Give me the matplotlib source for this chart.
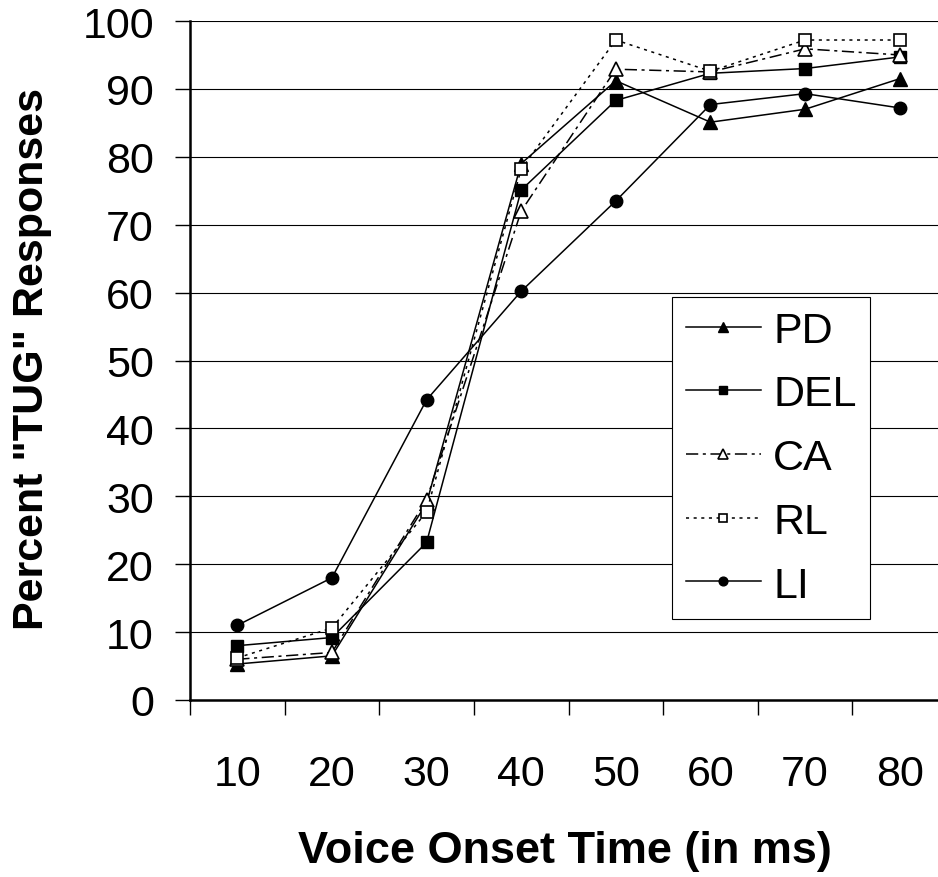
import matplotlib
matplotlib.use('Agg')
import matplotlib.pyplot as plt

plt.rcParams['font.family'] = ['Liberation Sans', 'DejaVu Sans']

# dados
vot = ['10', '20', '30', '40', '50', '60', '70', '80']
pd_vals = [5.3, 6.5, 29.0, 79.0, 91.2, 85.1, 87.0, 91.5]
del_vals = [8.0, 9.2, 23.2, 75.1, 88.3, 92.3, 93.0, 94.7]
ca_vals = [6.0, 7.0, 29.5, 72.0, 92.9, 92.5, 95.9, 95.0]
rl_vals = [6.2, 10.6, 27.7, 78.2, 97.2, 92.6, 97.2, 97.2]
li_vals = [11.0, 18.0, 44.2, 60.2, 73.5, 87.7, 89.3, 87.2]
y_ticks = [0, 10, 20, 30, 40, 50, 60, 70, 80, 90, 100]

fig = plt.figure(figsize=(9.38, 8.78), dpi=100)
ax = fig.add_axes([190 / 938, 177 / 878, 757 / 938, 679 / 878])

x = list(range(len(vot)))
lw = 1.1

ax.plot(x, pd_vals, color='black', lw=lw, marker='^', ms=10,
        mfc='black', mec='black', label='PD')
ax.plot(x, del_vals, color='black', lw=lw, marker='s', ms=8.5,
        mfc='black', mec='black', label='DEL')
ax.plot(x, ca_vals, color='black', lw=lw, linestyle=(0, (8, 3, 2, 3)),
        marker='^', ms=10, mfc='white', mec='black', mew=1.2, label='CA')
ax.plot(x, rl_vals, color='black', lw=lw, linestyle=(0, (2, 3)),
        marker='s', ms=8.5, mfc='white', mec='black', mew=1.2, label='RL')
ax.plot(x, li_vals, color='black', lw=lw, marker='o', ms=9,
        mfc='black', mec='black', label='LI')

ax.set_xlim(-0.5, len(vot) - 0.5)
ax.set_ylim(0, 100)
ax.set_yticks(y_ticks)
ax.yaxis.grid(True, color='black', linewidth=0.8)
ax.set_axisbelow(True)

# ticks do eixo x nas divisas das categorias, rotulos no centro
ax.set_xticks(x)
ax.set_xticklabels(vot)
ax.set_xticks([i - 0.5 for i in range(len(vot) + 1)], minor=True)
ax.tick_params(axis='x', which='major', length=0, pad=39, labelsize=31)
ax.tick_params(axis='x', which='minor', length=11, width=1, direction='out')
ax.tick_params(axis='y', length=11, width=1, direction='out', pad=15, labelsize=31)

for lado in ['top', 'right']:
    ax.spines[lado].set_visible(False)
ax.spines['left'].set_linewidth(1.8)
ax.spines['bottom'].set_linewidth(1.8)

leg = ax.legend(loc='upper left', bbox_to_anchor=(482 / 757, 1 - 276 / 679),
                fontsize=31, frameon=True, fancybox=False, framealpha=1,
                edgecolor='black', handlelength=1.75, handletextpad=0.28,
                labelspacing=0.55, borderpad=0.32, borderaxespad=0,
                markerscale=0.7)
leg.get_frame().set_linewidth(0.8)

fig.text(32 / 938, 248 / 878, 'Percent "TUG" Responses', rotation=90,
         ha='center', va='bottom', fontsize=31, fontweight='bold')
fig.text(565 / 938, 15 / 878, 'Voice Onset Time (in ms)',
         ha='center', va='baseline', fontsize=32.5, fontweight='bold')

plt.savefig('out.png', dpi=100)
plt.close()
